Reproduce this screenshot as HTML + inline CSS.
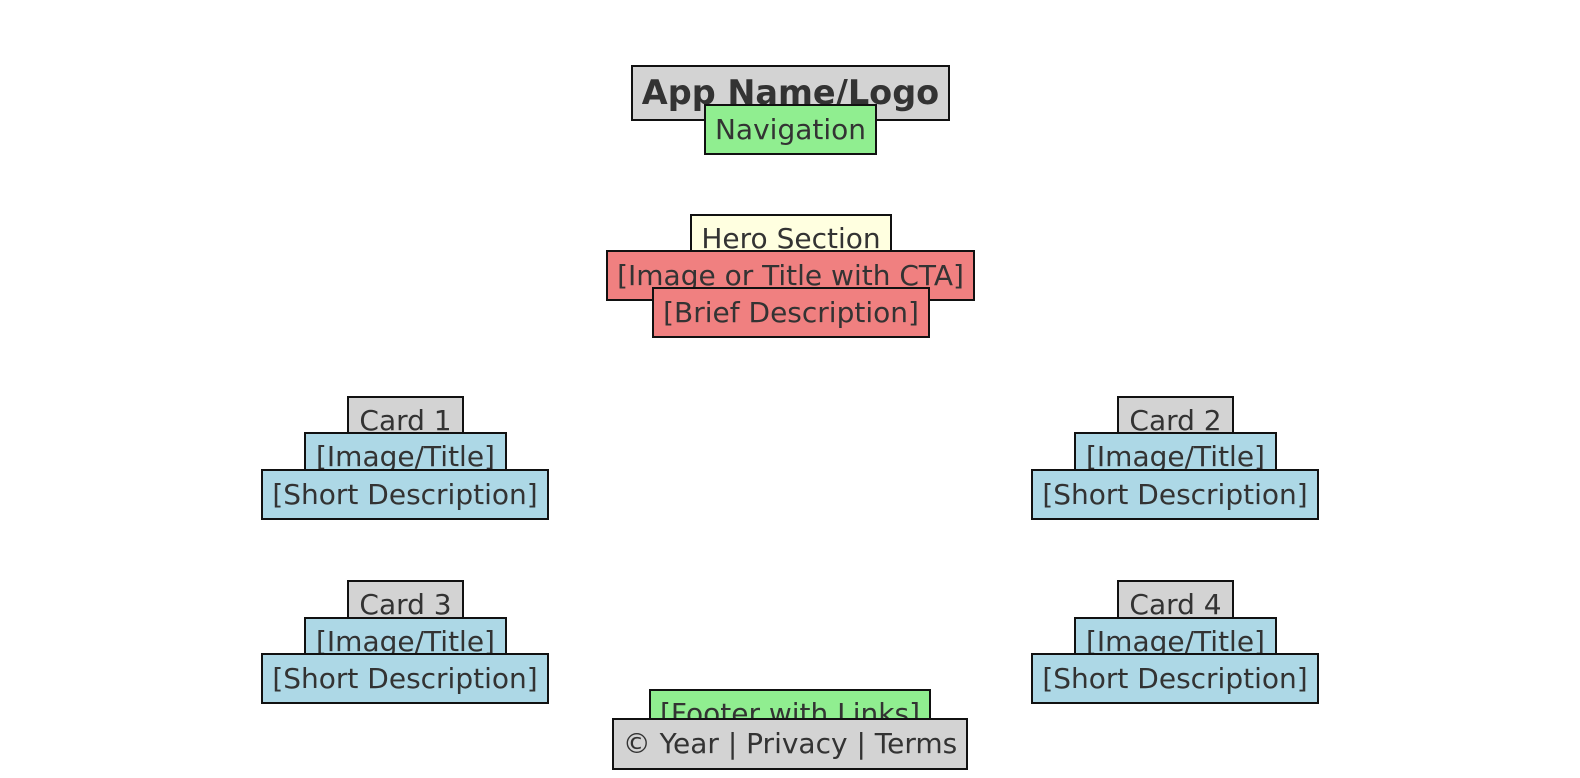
<!DOCTYPE html>
<html><head><meta charset="utf-8"><style>
body{margin:0;width:1580px;height:778px;background:#fff;position:relative;overflow:hidden;font-family:"DejaVu Sans","Liberation Sans",sans-serif;}
.b{position:absolute;box-sizing:border-box;border:2px solid #111;display:flex;align-items:center;justify-content:center;color:#333;font-size:28px;white-space:nowrap;line-height:1}
.g{background:#d3d3d3}.gr{background:#90ee90}.y{background:#ffffe0}.r{background:#f08080}.bl{background:#add8e6}
</style></head><body>
<div class="b g" style="left:631px;top:65px;width:319px;height:56px;font-weight:bold;font-size:33.5px">App Name/Logo</div>
<div class="b gr" style="left:704px;top:104px;width:173px;height:51px">Navigation</div>
<div class="b y" style="left:690px;top:214px;width:202px;height:50px">Hero Section</div>
<div class="b r" style="left:606px;top:250px;width:369px;height:51px">[Image or Title with CTA]</div>
<div class="b r" style="left:652px;top:287px;width:278px;height:51px">[Brief Description]</div>

<div class="b g" style="left:347px;top:396px;width:117px;height:50px">Card 1</div>
<div class="b bl" style="left:304px;top:432px;width:203px;height:50px">[Image/Title]</div>
<div class="b bl" style="left:261px;top:469px;width:288px;height:51px">[Short Description]</div>

<div class="b g" style="left:1117px;top:396px;width:117px;height:50px">Card 2</div>
<div class="b bl" style="left:1074px;top:432px;width:203px;height:50px">[Image/Title]</div>
<div class="b bl" style="left:1031px;top:469px;width:288px;height:51px">[Short Description]</div>

<div class="b g" style="left:347px;top:580px;width:117px;height:50px">Card 3</div>
<div class="b bl" style="left:304px;top:617px;width:203px;height:50px">[Image/Title]</div>
<div class="b bl" style="left:261px;top:653px;width:288px;height:51px">[Short Description]</div>

<div class="b g" style="left:1117px;top:580px;width:117px;height:50px">Card 4</div>
<div class="b bl" style="left:1074px;top:617px;width:203px;height:50px">[Image/Title]</div>
<div class="b bl" style="left:1031px;top:653px;width:288px;height:51px">[Short Description]</div>

<div class="b gr" style="left:649px;top:689px;width:282px;height:50px">[Footer with Links]</div>
<div class="b g" style="left:612px;top:718px;width:356px;height:52px">© Year | Privacy | Terms</div>
</body></html>
